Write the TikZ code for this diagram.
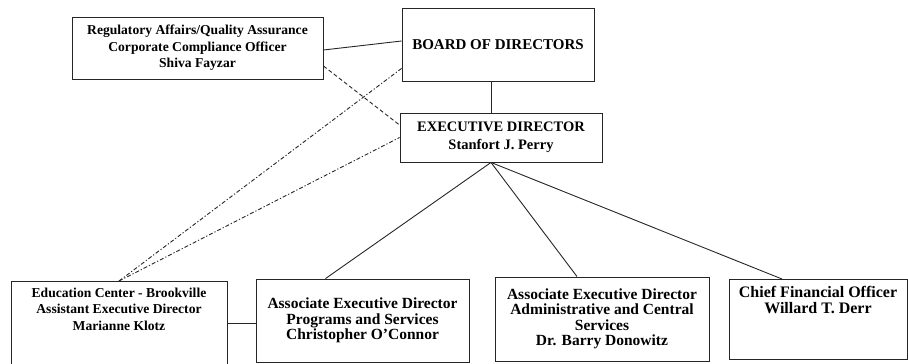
\documentclass[tikz,border=0pt]{standalone}
\usepackage{fontspec}
\setmainfont{Liberation Serif}

\begin{document}
\begin{tikzpicture}[
    x=1pt, y=-1pt,
    unit/.style={rectangle, draw=black!85, line width=0.9pt, align=center, inner sep=2pt, font=\bfseries\fontsize{15}{16}\selectfont},
    small/.style={font=\bfseries\fontsize{13.6}{16.5}\selectfont},
    link/.style={line width=0.9pt, black!85},
    dotted link/.style={link, dash pattern=on 4pt off 2pt on 1.2pt off 2pt},
]
\useasboundingbox (0,0) rectangle (908,364);

\node[unit, small, minimum width=251pt, minimum height=62pt] (ra) at (197.5,48) {Regulatory Affairs/Quality Assurance\\Corporate Compliance Officer\\Shiva Fayzar};
\node[unit, minimum width=192pt, minimum height=73pt] (board) at (498,44.5) {BOARD OF DIRECTORS};
\node[unit, font=\bfseries\fontsize{14.5}{18}\selectfont, minimum width=202pt, minimum height=49pt] (exec) at (501,137.5) {EXECUTIVE DIRECTOR\\Stanfort J. Perry};

\node[unit, small, minimum width=216pt, text height=47pt, text depth=33pt, anchor=north] (edu) at (119,281) {Education Center - Brookville\\Assistant Executive Director\\Marianne Klotz};
\node[unit, font=\bfseries\fontsize{15.5}{15.5}\selectfont, minimum width=213pt, minimum height=83pt] (prog) at (362.5,320.5) {Associate Executive Director\\Programs and Services\\Christopher O'Connor};
\node[unit, font=\bfseries\fontsize{15.5}{15.5}\selectfont, minimum width=214pt, minimum height=84pt] (admin) at (602,319) {Associate Executive Director\\Administrative and Central\\Services\\Dr. Barry Donowitz};
\node[unit, font=\bfseries\fontsize{16}{15.5}\selectfont, minimum width=178pt, text height=32pt, text depth=44pt, anchor=north] (cfo) at (818,279) {Chief Financial Officer\\Willard T. Derr};

% reporting lines
\coordinate (hub) at ([xshift=-10pt]exec.south);
\draw[link] (board.south -| hub) -- (exec.north -| hub);
\draw[link] ([yshift=-2pt]ra.east) -- ([yshift=3.5pt]board.west);
\draw[link] (hub) -- ([xshift=-37pt]prog.north);
\draw[link] (hub) -- ([xshift=-25pt]admin.north);
\draw[link] (hub) -- ([xshift=-36pt]cfo.north);
\draw[link] (edu.east) -- (edu.east -| prog.west);

% dotted lines
\draw[link, dashed, dash pattern=on 4pt off 2.5pt] ([yshift=-18pt]ra.east) -- ([yshift=12.5pt]exec.west);
\draw[dotted link] (edu.north) -- ([yshift=13pt]board.south west);
\draw[dotted link] (edu.north) -- (exec.west);
\end{tikzpicture}
\end{document}
